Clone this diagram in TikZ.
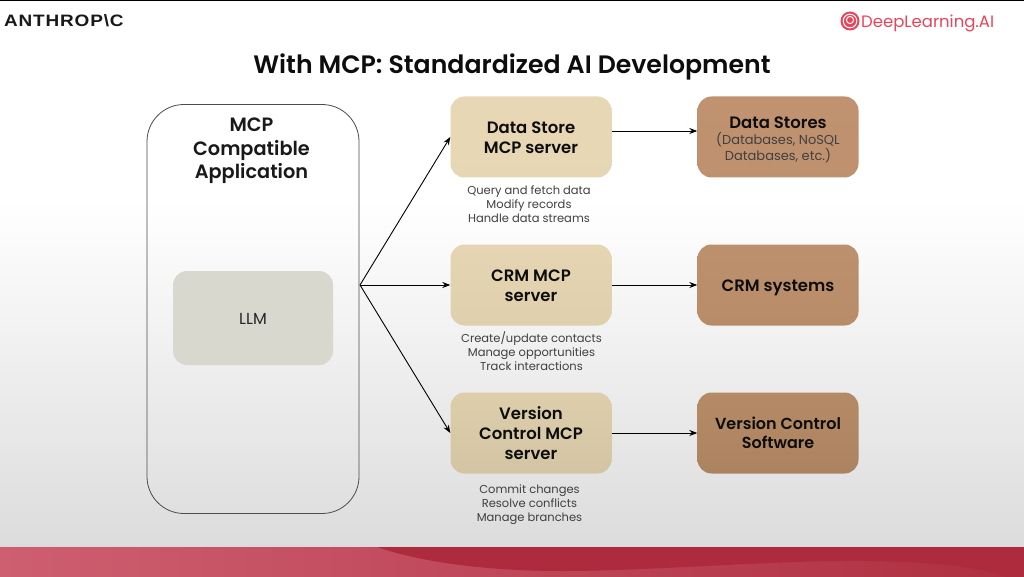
\documentclass[tikz,border=0pt]{standalone}
\usepackage{fontspec}
\setmainfont{Poppins}[BoldFont={Poppins SemiBold}]
\newfontfamily\logofont{Liberation Sans}[FakeStretch=1.15,LetterSpace=5]
\usetikzlibrary{arrows.meta,calc}
\definecolor{grA}{HTML}{FFFFFF}
\definecolor{grB}{HTML}{DCDCDC}
\definecolor{srvA}{HTML}{E7D7B4}
\definecolor{srvB}{HTML}{D3C4A3}
\definecolor{stA}{HTML}{C0926F}
\definecolor{stB}{HTML}{AC8360}
\definecolor{llmc}{HTML}{D9D8CE}
\definecolor{dlred}{HTML}{E8455A}
\definecolor{bandA}{HTML}{CE5F70}
\definecolor{bandB}{HTML}{AE2F40}
\definecolor{bandC}{HTML}{AE2A3D}
\tikzset{
  x=1pt,y=-1pt,
  srv/.style={rounded corners=14pt,minimum width=161pt,minimum height=81pt,inner sep=0pt,align=center,
     font=\fontsize{16.5}{20}\selectfont\bfseries,text=black!95},
  store/.style={srv},
  note/.style={align=center,font=\fontsize{11.5}{14}\selectfont,text=black!75,inner sep=0pt},
  conn/.style={draw=black,line width=0.9pt,-{Stealth[length=8pt,width=6pt]}},
}
\begin{document}
\begin{tikzpicture}
\useasboundingbox (0,0) rectangle (1024,577);
\fill[grA] (0,0) rectangle (1024,200);
\shade[top color=grA,bottom color=grB] (0,200) rectangle (1024,547);
\fill[black] (0,0) rectangle (1024,1);
% band
\shade[left color=bandA,right color=bandB] (0,547) rectangle (1024,577);
\fill[bandC] (377,547) .. controls (430,565) and (500,571) .. (562,571)
  .. controls (650,571) and (760,561) .. (850,561) .. controls (920,561) and (975,565) .. (1006,577)
  -- (1024,577) -- (1024,547) -- cycle;
\draw[white!70!gray,line width=0.6pt] (0,546.5) -- (1024,546.5);
% logos
\node[anchor=west,inner sep=0pt,font=\logofont\fontsize{16.5}{20}\selectfont\bfseries,text=black!90] (anth) at (4,20.7) {ANTHROP\textbackslash C};
\node[anchor=west,inner sep=0pt,font=\fontsize{16.5}{20}\selectfont,text=dlred] (dl) at (861,23) {DeepLearning.AI};
\fill[dlred] (850,21) circle (9.5pt);
\draw[white,line width=1pt] (850,21) circle (6.8pt);
\draw[white,line width=1pt] (850,20) circle (3.6pt);
% title
\node[inner sep=0pt,font=\fontsize{25.2}{30}\selectfont\bfseries,text=black!95] (title) at (512,66.5) {With MCP: Standardized AI Development};
% app
\node[draw=black!70,line width=0.8pt,rounded corners=37pt,minimum width=212pt,minimum height=409pt,inner sep=0pt] (app) at (253,309) {};
\node[align=center,inner sep=0pt,font=\fontsize{19.3}{23.5}\selectfont\bfseries,text=black!90] (apptitle) at (251.5,151) {MCP\\Compatible\\Application};
\node[fill=llmc,rounded corners=14pt,minimum width=160pt,minimum height=94pt,inner sep=0pt,font=\fontsize{16}{18}\selectfont,text=black!85] (llm) at (253,318) {\rule{0pt}{13.5pt}LLM};
% servers
\node[srv,top color=srvA,bottom color=srvA!97!srvB] (s1) at (531,137) {\rule{0pt}{13pt}Data Store\\MCP server};
\node[srv,top color=srvA!90!srvB,bottom color=srvA!60!srvB] (s2) at (531,285) {\rule{0pt}{14pt}CRM MCP\\server};
\node[srv,top color=srvA!50!srvB,bottom color=srvB] (s3) at (531,433) {Version\\Control MCP\\server};
% stores
\node[store,top color=stA,bottom color=stA!92!stB] (d1) at (778,137) {};
\node[inner sep=0pt,align=center,text=black!95,font=\fontsize{13}{16}\selectfont] (d1t) at (778,140) {\fontsize{16.5}{18}\selectfont\bfseries Data Stores\\\fontsize{13}{16}\selectfont\color{black!75}(Databases, NoSQL\\\fontsize{13}{16}\selectfont\color{black!75}Databases, etc.)};
\node[store,top color=stA!88!stB,bottom color=stA!60!stB] (d2) at (778,285) {\rule{0pt}{17.5pt}CRM systems};
\node[store,top color=stA!45!stB,bottom color=stB,font=\fontsize{16}{19.5}\selectfont\bfseries] (d3) at (778,433) {Version Control\\Software};
% notes
\node[note] (n1) at (529,204) {Query and fetch data\\Modify records\\Handle data streams};
\node[note] (n2) at (531.5,351) {Create/update contacts\\Manage opportunities\\Track interactions};
\node[note] (n3) at (529.5,505) {Commit changes\\Resolve conflicts\\Manage branches};
% connectors
\coordinate (hub) at (360,285);
\draw[conn] (hub) -- (s1.west);
\draw[conn] (hub) -- (s2.west);
\draw[conn] (hub) -- (s3.west);
\draw[conn] ($(s1.east)+(0,-6)$) -- ($(d1.west)+(0,-6)$);
\draw[conn] (s2.east) -- (d2.west);
\draw[conn] (s3.east) -- (d3.west);
\end{tikzpicture}
\end{document}
